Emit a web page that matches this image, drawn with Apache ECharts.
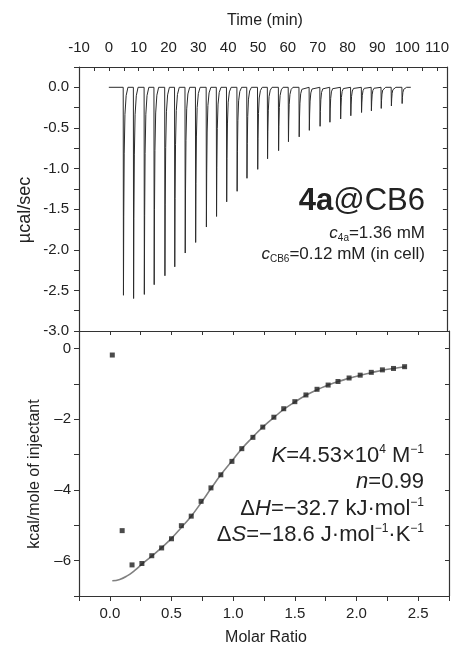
<!DOCTYPE html>
<html>
<head>
<meta charset="utf-8">
<script src="https://cdn.jsdelivr.net/npm/echarts@6/dist/echarts.min.js"></script>
<style>
html,body{margin:0;padding:0;background:#fff;}
#c{width:452px;height:651px;}
</style>
</head>
<body>
<div id="c"></div>
<script>
// ---- Top panel: raw ITC thermogram (time in min, µcal/sec) ----
const peakTimes = [4.9, 8.3, 11.9, 15.2, 18.8, 22.1, 25.6, 29.1, 32.7, 36.1, 39.5, 43.0, 46.3, 49.9,
  53.2, 56.9, 60.2, 63.8, 67.2, 70.8, 74.1, 77.7, 81.1, 84.7, 88.0, 91.3, 94.7, 98.3];
const peakDepths = [-2.56, -2.60, -2.55, -2.43, -2.32, -2.21, -2.04, -1.91, -1.72, -1.59, -1.41, -1.28, -1.12, -1.01,
  -0.88, -0.78, -0.67, -0.61, -0.53, -0.48, -0.43, -0.39, -0.35, -0.31, -0.29, -0.26, -0.23, -0.20];
// peak shape: [time offset (min), fraction of peak depth]
const peakProfile = [[-0.08, 0], [0.0, 1], [0.1, 0.62], [0.25, 0.32], [0.5, 0.13], [0.9, 0.04], [1.5, 0]];
const baselineStart = 0;
const baselineEnd = 101.2;

// ---- Bottom panel: integrated heats ----
const molarRatio = [0.02, 0.10, 0.18, 0.26, 0.34, 0.42, 0.50, 0.58, 0.66, 0.74, 0.82, 0.90, 0.99, 1.07,
  1.16, 1.24, 1.33, 1.41, 1.50, 1.59, 1.68, 1.77, 1.85, 1.94, 2.03, 2.12, 2.21, 2.30, 2.39];
const heat = [-0.18, -5.15, -6.12, -6.08, -5.86, -5.64, -5.38, -5.01, -4.74, -4.32, -3.94, -3.57, -3.19, -2.83,
  -2.51, -2.22, -1.94, -1.70, -1.50, -1.31, -1.15, -1.03, -0.93, -0.83, -0.75, -0.67, -0.60, -0.56, -0.51];
const fitX = [0.02, 0.08, 0.14, 0.20, 0.26, 0.34, 0.42, 0.50, 0.58, 0.66, 0.74, 0.82, 0.90, 0.99, 1.07,
  1.16, 1.24, 1.33, 1.41, 1.50, 1.59, 1.68, 1.77, 1.85, 1.94, 2.03, 2.12, 2.21, 2.30, 2.40];
const fitY = [-6.57, -6.53, -6.43, -6.28, -6.10, -5.87, -5.63, -5.37, -5.06, -4.74, -4.36, -3.96, -3.57, -3.18, -2.83,
  -2.50, -2.22, -1.95, -1.72, -1.51, -1.32, -1.16, -1.03, -0.93, -0.84, -0.75, -0.68, -0.61, -0.56, -0.51];

const topTitle = 'Time (min)';
const topYTitle = 'µcal/sec';
const botYTitle = 'kcal/mole of injectant';
const botXTitle = 'Molar Ratio';

// build thermogram polyline
const thermo = [[baselineStart, 0]];
peakTimes.forEach((t, i) => {
  peakProfile.forEach(p => thermo.push([t + p[0], peakDepths[i] * p[1]]));
});
thermo.push([baselineEnd, 0]);

const FONT = '"Liberation Sans", Arial, Helvetica, sans-serif';
const AX = '#333';
const TXT = '#222';

function axLine() { return { show: true, onZero: false, lineStyle: { color: AX, width: 1.2 } }; }
function isMult(v, m) { const r = v / m; return Math.abs(r - Math.round(r)) < 1e-6; }

const chart = echarts.init(document.getElementById('c'), null, { renderer: 'canvas', width: 452, height: 651 });

const big = { fontSize: 22, fontFamily: FONT, lineHeight: 24, fill: TXT };
const bigI = { fontSize: 22, fontStyle: 'italic', fontFamily: FONT, lineHeight: 24, fill: TXT };
const sup = { fontSize: 12, fontFamily: FONT, lineHeight: 13, verticalAlign: 'top', fill: TXT };
const mid = { fontSize: 17, fontFamily: FONT, lineHeight: 20, fill: TXT };
const midI = { fontSize: 17, fontStyle: 'italic', fontFamily: FONT, lineHeight: 20, fill: TXT };
const sub = { fontSize: 10, fontFamily: FONT, lineHeight: 10, verticalAlign: 'bottom', fill: TXT };

const option = {
  animation: false,
  backgroundColor: '#fff',
  textStyle: { fontFamily: FONT },
  grid: [
    { left: 79, top: 67, width: 370, height: 264 },
    { left: 79, top: 331, width: 370, height: 265 }
  ],
  xAxis: [
    { gridIndex: 0, type: 'value', position: 'top', min: -10, max: 113.3, interval: 5,
      axisLine: axLine(), splitLine: { show: false },
      axisTick: { show: true, inside: true, length: 4, lineStyle: { color: AX, width: 1 } },
      axisLabel: { show: true, margin: 12, fontSize: 15, color: TXT, fontFamily: FONT,
        formatter: v => isMult(v, 10) ? String(Math.round(v)) : '' } },
    { gridIndex: 1, type: 'value', position: 'bottom', min: -0.25, max: 2.75, interval: 0.25,
      axisLine: axLine(), splitLine: { show: false },
      axisTick: { show: true, inside: false, length: 5, lineStyle: { color: AX, width: 1 } },
      axisLabel: { show: true, margin: 10, fontSize: 15, color: TXT, fontFamily: FONT,
        formatter: v => (v >= 0 && isMult(v, 0.5)) ? v.toFixed(1) : '' } },
    { gridIndex: 1, type: 'value', position: 'top', min: -0.25, max: 2.75, interval: 0.25,
      axisLine: axLine(), splitLine: { show: false },
      axisTick: { show: true, inside: true, length: 4, lineStyle: { color: AX, width: 1 } },
      axisLabel: { show: false } }
  ],
  yAxis: [
    { gridIndex: 0, type: 'value', position: 'left', min: -3, max: 0.25, interval: 0.25,
      axisLine: axLine(), splitLine: { show: false },
      axisTick: { show: true, inside: false, length: 5, lineStyle: { color: AX, width: 1 } },
      axisLabel: { show: true, margin: 10, fontSize: 15, color: TXT, fontFamily: FONT,
        formatter: v => (v <= 0 && isMult(v, 0.5)) ? v.toFixed(1) : '' } },
    { gridIndex: 0, type: 'value', position: 'right', min: -3, max: 0.25, interval: 0.25,
      axisLine: axLine(), splitLine: { show: false },
      axisTick: { show: true, inside: true, length: 4, lineStyle: { color: AX, width: 1 } },
      axisLabel: { show: false } },
    { gridIndex: 1, type: 'value', position: 'left', min: -7, max: 0.5, interval: 1,
      axisLine: axLine(), splitLine: { show: false },
      axisTick: { show: true, inside: false, length: 5, lineStyle: { color: AX, width: 1 } },
      axisLabel: { show: true, margin: 8, fontSize: 15, color: TXT, fontFamily: FONT,
        formatter: v => (v <= 0 && isMult(v, 2)) ? (v < 0 ? '\u2013' + String(Math.round(-v)) : '0') : '' } },
    { gridIndex: 1, type: 'value', position: 'right', min: -7, max: 0.5, interval: 1,
      axisLine: axLine(), splitLine: { show: false },
      axisTick: { show: true, inside: true, length: 4, lineStyle: { color: AX, width: 1 } },
      axisLabel: { show: false } }
  ],
  series: [
    { type: 'line', xAxisIndex: 0, yAxisIndex: 0, data: thermo, showSymbol: false, symbol: 'none',
      lineStyle: { color: '#2b2b2b', width: 1 }, clip: true, silent: true },
    { type: 'line', xAxisIndex: 1, yAxisIndex: 2, data: fitX.map((x, i) => [x, fitY[i]]), smooth: true,
      showSymbol: false, symbol: 'none', lineStyle: { color: '#808080', width: 1.6 }, silent: true, z: 2 },
    { type: 'scatter', xAxisIndex: 1, yAxisIndex: 2, data: molarRatio.map((x, i) => [x, heat[i]]),
      symbol: 'rect', symbolSize: 5, itemStyle: { color: '#1e1e1e' }, silent: true, z: 3 }
  ],
  graphic: [
    { type: 'text', x: 265, y: 21, style: { text: topTitle, font: '16px ' + FONT, fill: TXT, align: 'center', verticalAlign: 'middle' } },
    { type: 'text', x: 25, y: 210, rotation: Math.PI / 2, style: { text: topYTitle, font: '18px ' + FONT, fill: TXT, align: 'center', verticalAlign: 'middle' } },
    { type: 'text', x: 35, y: 474, rotation: Math.PI / 2, style: { text: botYTitle, font: '16px ' + FONT, fill: TXT, align: 'center', verticalAlign: 'middle' } },
    { type: 'text', x: 266, y: 638, style: { text: botXTitle, font: '16px ' + FONT, fill: TXT, align: 'center', verticalAlign: 'middle' } },
    { type: 'text', x: 425, y: 201, style: {
        text: '{b|4a}{n|@CB6}', align: 'right', verticalAlign: 'middle', fill: TXT,
        rich: { b: { fontSize: 31, fontWeight: 'bold', fontFamily: FONT, fill: TXT },
                n: { fontSize: 31, fontFamily: FONT, fill: TXT } } } },
    { type: 'text', x: 425, y: 233, style: {
        text: '{i|c}{s|4a}{n|=1.36 mM}', align: 'right', verticalAlign: 'middle', fill: TXT,
        rich: { i: midI, s: sub, n: mid } } },
    { type: 'text', x: 425, y: 254, style: {
        text: '{i|c}{s|CB6}{n|=0.12 mM (in cell)}', align: 'right', verticalAlign: 'middle', fill: TXT,
        rich: { i: midI, s: sub, n: mid } } },
    { type: 'text', x: 424, y: 456, style: {
        text: '{i|K}{n|=4.53×10}{p|4}{n| M}{p|−1}', align: 'right', verticalAlign: 'middle', fill: TXT,
        rich: { i: bigI, n: big, p: sup } } },
    { type: 'text', x: 424, y: 482, style: {
        text: '{i|n}{n|=0.99}', align: 'right', verticalAlign: 'middle', fill: TXT,
        rich: { i: bigI, n: big } } },
    { type: 'text', x: 424, y: 509, style: {
        text: '{n|Δ}{i|H}{n|=−32.7 kJ·mol}{p|−1}', align: 'right', verticalAlign: 'middle', fill: TXT,
        rich: { i: bigI, n: big, p: sup } } },
    { type: 'text', x: 424, y: 535, style: {
        text: '{n|Δ}{i|S}{n|=−18.6 J·mol}{p|−1}{n|·K}{p|−1}', align: 'right', verticalAlign: 'middle', fill: TXT,
        rich: { i: bigI, n: big, p: sup } } }
  ]
};
chart.setOption(option);
</script>
</body>
</html>
